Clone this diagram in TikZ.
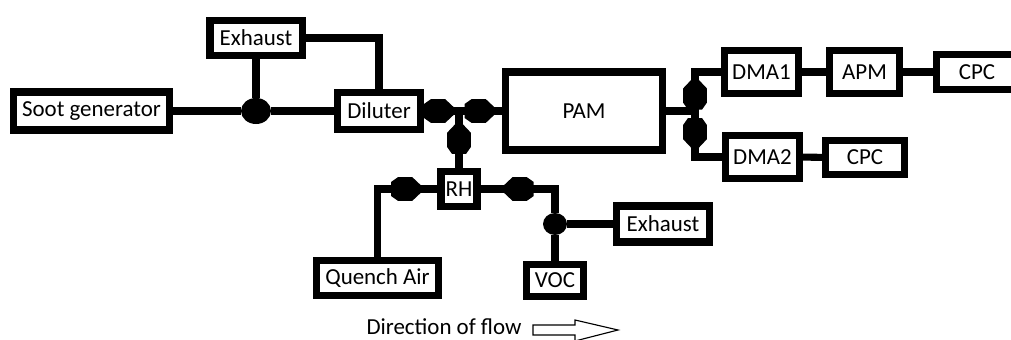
\documentclass[tikz,border=0pt]{standalone}
\usepackage{fontspec}
\setmainfont{Carlito}
\usetikzlibrary{positioning,shapes.geometric,decorations.markings}

\begin{document}
\begin{tikzpicture}[x=0.025cm, y=-0.025cm, font=\fontsize{16.3}{19}\selectfont]
    \tikzset{blk/.style={draw, line width=5pt, inner sep=0pt},
      pipe/.style={line width=5pt},
      joint/.style={fill, ellipse, inner sep=0pt},
      flowtip/.style={postaction={decorate}, decoration={markings,
        mark=at position #1 with {\fill (-12pt,-5pt) -- (-7pt,-8.5pt) -- (3pt,-8.5pt) -- (12pt,0pt)
          -- (3pt,8.5pt) -- (-7pt,8.5pt) -- (-12pt,5pt) -- cycle;}}}}
    \useasboundingbox (0,0) rectangle (1011,340);
    % upper line
    \node[blk, minimum width=3.9cm, minimum height=0.95cm] (soot) at (91.5,111) {Soot generator};
    \node[blk, minimum width=2.3cm, minimum height=0.875cm] (exh1) at (256,38) {Exhaust};
    \node[joint, minimum width=0.75cm, minimum height=0.65cm] (j1) at (256,111) {};
    \node[blk, minimum width=2.075cm, minimum height=0.925cm] (dil) at (379,111) {Diluter};
    \coordinate (j3) at (459,111);
    \node[blk, minimum width=3.925cm, minimum height=1.95cm] (pam) at (584,111) {PAM};
    \coordinate (j4) at (695,111);
    \node[blk, minimum width=1.85cm, minimum height=1.075cm] (dma1) at (761.5,72) {DMA1};
    \node[blk, minimum width=1.75cm, minimum height=1.075cm] (apm) at (864.5,72) {APM};
    \node[blk, minimum width=2.025cm, minimum height=0.875cm] (cpc1) at (977,72) {CPC};
    \node[blk, minimum width=1.85cm, minimum height=1.075cm] (dma2) at (762.5,157) {DMA2};
    \node[blk, minimum width=1.975cm, minimum height=0.85cm] (cpc2) at (865,157.5) {CPC};
    % lower line
    \node[blk, minimum width=0.9cm, minimum height=0.875cm] (rh) at (459,189) {RH};
    \node[blk, minimum width=3.05cm, minimum height=0.875cm] (quench) at (377.5,278) {Quench Air};
    \node[joint, minimum width=0.6cm, minimum height=0.55cm] (j2) at (555,224) {};
    \node[blk, minimum width=2.325cm, minimum height=0.9cm] (exh2) at (663,224) {Exhaust};
    \node[blk, minimum width=1.425cm, minimum height=0.8cm] (voc) at (555,280.5) {VOC};
    \node (flow) at (444,327) {Direction of flow};

    \draw[pipe] (soot) -- (j1);
    \draw[pipe] (exh1) -- (j1);
    \draw[pipe] (j1) -- (dil);
    \draw[pipe] (exh1.east) -| (dil.north);
    \draw[pipe, flowtip=12pt] (dil.east) -- (j3);
    \draw[pipe, flowtip=16pt] (j3) -- (pam.west);
    \draw[pipe, flowtip=22pt] (rh.north) -- (j3);
    \draw[pipe] (pam.east) -- (j4);
    \draw[pipe, flowtip=13pt] (j4) |- (dma1.west);
    \draw[pipe, flowtip=17pt] (j4) |- (dma2.west);
    \draw[pipe] (dma1) -- (apm);
    \draw[pipe] (apm) -- (cpc1);
    \draw[pipe] (dma2) -- (cpc2);
    \draw[pipe, flowtip=70pt] (quench.north) |- (rh.west);
    \draw[pipe, flowtip=44pt] (j2.north) |- (rh.east);
    \draw[pipe] (j2) -- (exh2);
    \draw[pipe] (j2) -- (voc);
    % hollow arrow
    \draw[line width=0.8pt] (533,325) -- (575,325) -- (575,320) -- (618,330)
      -- (575,341) -- (575,335) -- (533,335) -- cycle;
\end{tikzpicture}
\end{document}
